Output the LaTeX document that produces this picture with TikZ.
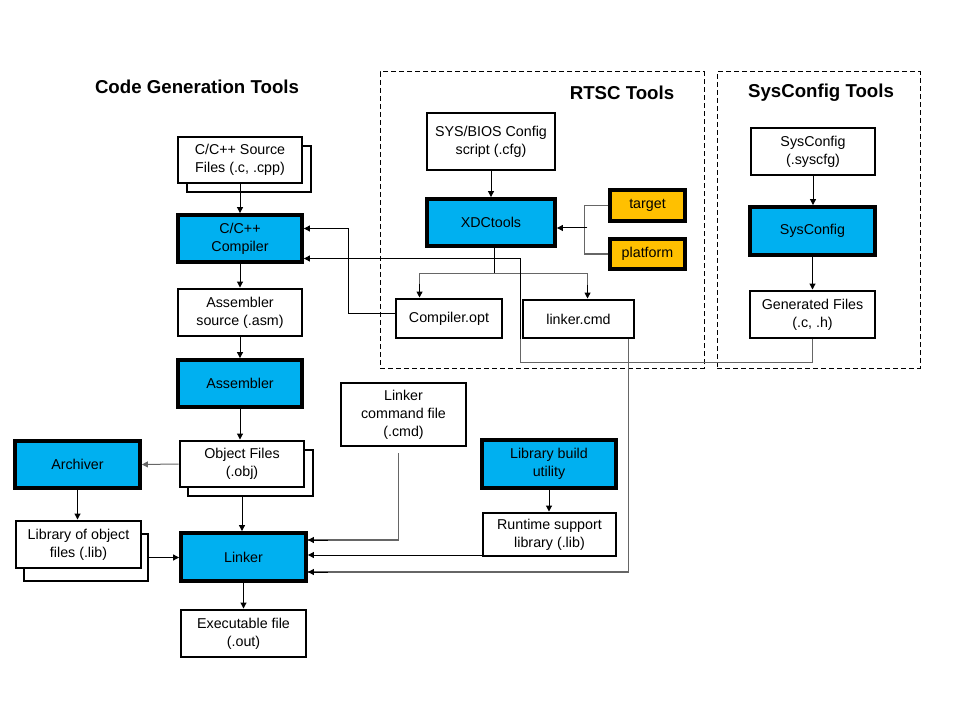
\documentclass[tikz,border=0pt]{standalone}
\usepackage{fontspec}
\setmainfont{Liberation Sans}
\usetikzlibrary{arrows.meta,calc,fit}
\definecolor{tiblue}{HTML}{00B0F0}
\definecolor{tiorange}{HTML}{FFC000}
\begin{document}
\begin{tikzpicture}[x=0.75pt,y=-0.75pt,
  wbox/.style={draw, line width=2.2pt, fill=white, inner sep=0pt},
  bbox/.style={wbox, fill=tiblue, line width=2.9pt},
  obox/.style={wbox, fill=tiorange, line width=2.5pt},
  lbl/.style={align=center, inner sep=0pt, font=\fontsize{10.7}{13.5}\selectfont},
  arr/.style={-{Triangle[length=4.5pt,width=4.5pt]}, line width=0.75pt},
  garr/.style={arr, draw=black!60},
  gline/.style={line width=0.85pt, draw=black!60},
  dbox/.style={draw, line width=0.75pt, dash pattern=on 3.75pt off 2.25pt},
  ttl/.style={font=\bfseries\fontsize{14}{16}\selectfont}]
\useasboundingbox (0,0) rectangle (960,720);
% dashed groups
\node[dbox, fit={(380,72)(704,368)}, inner sep=0pt] (rtsc) {};
\node[dbox, fit={(717,72)(920,368)}, inner sep=0pt] (sysg) {};
% titles
\node[ttl] (t1) at (197,87) {Code Generation Tools};
\node[ttl] (t2) at (622,93) {RTSC Tools};
\node[ttl] (t3) at (821,93) {SysConfig Tools};
% code generation column
\node[wbox, fit={(187,146)(311,192)}] (srcsh) {};
\node[wbox, fit={(178,137)(302,183)}] (src) {};
\node[lbl] (srcl) at (src.center) {C/C++ Source\\Files (.c, .cpp)};
\node[bbox, fit={(178,215)(302,262)}] (comp) {};
\node[lbl] (compl) at (comp.center) {C/C++\\Compiler};
\node[wbox, fit={(178,289)(302,336)}] (asms) {};
\node[lbl] (asmsl) at (asms.center) {Assembler\\source (.asm)};
\node[bbox, fit={(178,360)(302,407)}] (asm) {};
\node[lbl] (asml) at (asm.center) {Assembler};
\node[wbox, fit={(188,450)(313,496)}] (objsh) {};
\node[wbox, fit={(180,441)(304,487)}] (obj) {};
\node[lbl] (objl) at (obj.center) {Object Files\\(.obj)};
\node[bbox, fit={(15,441)(140,488)}] (arch) {};
\node[lbl] (archl) at (arch.center) {Archiver};
\node[wbox, fit={(24,534)(148,581)}] (libsh) {};
\node[wbox, fit={(16,521)(141,568)}] (lib) {};
\node[lbl] (libl) at (lib.center) {Library of object\\files (.lib)};
\node[bbox, fit={(181,533)(306,581)}] (link) {};
\node[lbl] (linkl) at (link.center) {Linker};
\node[wbox, fit={(181,610)(306,657)}] (exe) {};
\node[lbl] (exel) at (exe.center) {Executable file\\(.out)};
\node[wbox, fit={(341,383)(466,446)}] (lcf) {};
\node[lbl] (lcfl) at (lcf.center) {Linker\\command file\\(.cmd)};
\node[bbox, fit={(482,440)(616,488)}] (lbu) {};
\node[lbl] (lbul) at (lbu.center) {Library build\\utility};
\node[wbox, fit={(483,513)(616,556)}] (rts) {};
\node[lbl] (rtsl) at (rts.center) {Runtime support\\library (.lib)};
% RTSC
\node[wbox, fit={(427,113)(555,170)}] (sbc) {};
\node[lbl] (sbcl) at (sbc.center) {SYS/BIOS Config\\script (.cfg)};
\node[bbox, fit={(427,199)(555,246)}] (xdc) {};
\node[lbl] (xdcl) at (xdc.center) {XDCtools};
\node[wbox, fit={(396,299)(502,338)}] (copt) {};
\node[lbl] (coptl) at (copt.center) {Compiler.opt};
\node[wbox, fit={(523,300)(634,338)}] (lcmd) {};
\node[lbl] (lcmdl) at (lcmd.center) {linker.cmd};
\node[obox, fit={(610,190)(685,221)}] (tgt) {};
\node[lbl] (tgtl) at (tgt.center) {target};
\node[obox, fit={(610,239)(685,269)}] (plat) {};
\node[lbl] (platl) at (plat.center) {platform};
% SysConfig
\node[wbox, fit={(751,128)(875,175)}] (scfg) {};
\node[lbl] (scfgl) at (scfg.center) {SysConfig\\(.syscfg)};
\node[bbox, fit={(750,207)(875,255)}] (sc) {};
\node[lbl] (scl) at (sc.center) {SysConfig};
\node[wbox, fit={(750,291)(875,338)}] (gen) {};
\node[lbl] (genl) at (gen.center) {Generated Files\\(.c, .h)};
\draw[arr] (scfg.south) -- (scfg.south |- sc.north);
\draw[arr] (sc.south) -- (sc.south |- gen.north);
% main chain
\draw[arr] (src.south) -- (comp.north);
\draw[arr] (comp.south) -- (asms.north);
\draw[arr] (asms.south) -- (asm.north);
\draw[arr] (asm.south) -- (asm.south |- obj.north);
\draw[garr] (obj.west) -- (arch.east);
\draw[arr] (arch.south) -- (arch.south |- lib.north);
\draw[arr] (libsh.east) -- (libsh.east -| link.west);
\draw[arr] (obj.south |- objsh.south) -- (obj.south |- link.north);
\draw[arr] (link.south) -- (link.south |- exe.north);
% into linker
\coordinate (lk0) at ($(link.east)+(0,-17)$);
\coordinate (lk1) at ($(link.east)+(0,-2)$);
\coordinate (lk2) at ($(link.east)+(0,15)$);
\coordinate (lcfo) at ($(lcf.south)+(-5,6)$);
\draw[gline] (lcfo) |- (lk0);
\draw[arr] ($(lk0)+(20,0)$) -- (lk0);
\draw[arr] (rts.west |- lk1) -- (lk1);
\coordinate (lcmdo) at ($(lcmd.south east)+(-7,0)$);
\draw[gline] (lcmdo) |- (lk2);
\draw[arr] ($(lk2)+(20,0)$) -- (lk2);
\draw[arr] (lbu.south) -- (lbu.south |- rts.north);
% RTSC connectors
\draw[arr] (sbc.south) -- (xdc.north);
\coordinate (xb) at ($(xdc.south)+(3,26)$);
\coordinate (xc) at ($(copt.north west)+(25,0)$);
\coordinate (xl) at ($(lcmd.north west)+(66,0)$);
\draw[line width=0.75pt] ($(xdc.south)+(3,0)$) -- (xb);
\draw[gline] (xb) -| ($(xc)+(0,-12)$);
\draw[gline] (xb) -| ($(xl)+(0,-12)$);
\draw[arr] ($(xc)+(0,-14)$) -- (xc);
\draw[arr] ($(xl)+(0,-14)$) -- (xl);
\coordinate (tp) at ($(tgt.west)+(-24,0)$);
\draw[gline] (tgt.west) -- (tp) |- (plat.west);
\coordinate (xe) at ($(xdc.east)+(0,5.5)$);
\draw[arr] ($(xe -| tp)+(3,0)$) -- (xe);
% Compiler.opt -> compiler
\coordinate (co) at ($(copt.west)+(0,-5)$);
\coordinate (ce) at ($(comp.east)+(0,-10)$);
\draw[arr] (co) -- ++(-46,0) |- (ce);
% generated files -> compiler
\coordinate (cg) at ($(comp.east)+(0,20)$);
\coordinate (gb) at ($(gen.south)+(0,23)$);
\draw[gline] (gen.south) -- (gb) -| ($(lcmd.south west)+(-1,0)$);
\draw[line width=0.75pt] ($(lcmd.south west)+(-1,0)$) |- ($(cg)+(8,0)$);
\draw[arr] ($(cg)+(10,0)$) -- (cg);
\end{tikzpicture}
\end{document}
